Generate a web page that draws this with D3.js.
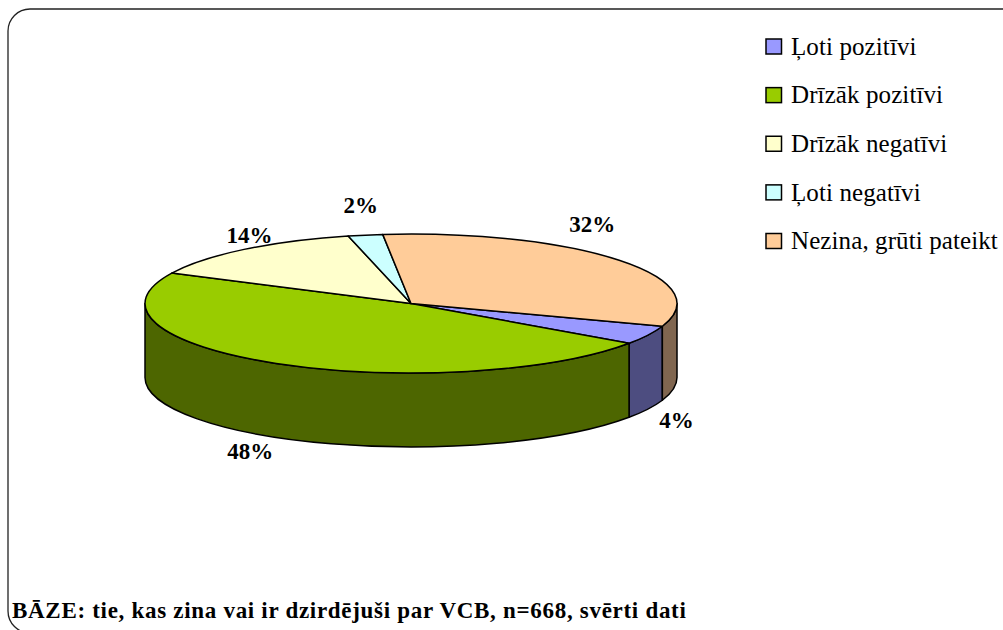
<!DOCTYPE html>
<html>
<head>
<meta charset="utf-8">
<script src="https://cdnjs.cloudflare.com/ajax/libs/d3/7.8.5/d3.min.js"></script>
<style>
  html, body { margin: 0; padding: 0; background: #fff; }
  svg { display: block; font-family: "Liberation Serif", serif; }
</style>
</head>
<body>
<div id="chart"></div>
<script>
const categories = ["Ļoti pozitīvi", "Drīzāk pozitīvi", "Drīzāk negatīvi", "Ļoti negatīvi", "Nezina, grūti pateikt"];
// labels are rounded, the slices themselves read a little finer
const shares = [4.4, 47.5, 14, 2.1, 32];
const topColors = ["#9999ff", "#99cc00", "#ffffcc", "#ccffff", "#ffcc99"];
const sideColors = ["#4d4d80", "#4d6600", "#808066", "#668080", "#806650"];
const footnote = "BĀZE: tie, kas zina vai ir dzirdējuši par VCB, n=668, svērti dati";

const width = 1003, height = 630;
const cx = 411, cy = 303.5, rx = 266, ry = 69.5, depth = 74;
const rad = Math.PI / 180;
const firstAngle = 109.1;

// label nudges from the rim point at each slice's middle
const labelNudge = [[28.5, 85], [-26, 88], [5.5, -14.5], [-4.6, -30], [-27, -36]];

const svg = d3.select("#chart").append("svg")
    .attr("width", width)
    .attr("height", height);

// frame runs off the right and bottom of the picture
svg.append("rect")
    .attr("x", 8).attr("y", 9)
    .attr("width", 1040).attr("height", 624)
    .attr("rx", 22).attr("ry", 22)
    .attr("fill", "#fff")
    .attr("stroke", "#222")
    .attr("stroke-width", 1.3);

const slices = d3.pie().sort(null)
    .startAngle(firstAngle * rad)
    .endAngle((firstAngle + 360) * rad)(shares);

const px = a => cx + rx * Math.sin(a);
const py = a => cy - ry * Math.cos(a);

const arcTo = (a0, a1, dy) => {
    const large = Math.abs(a1 - a0) > Math.PI ? 1 : 0;
    const sweep = a1 > a0 ? 1 : 0;
    return `A${rx},${ry} 0 ${large} ${sweep} ${px(a1)},${py(a1) + dy}`;
};

const topPath = d =>
    `M${cx},${cy}L${px(d.startAngle)},${py(d.startAngle)}` + arcTo(d.startAngle, d.endAngle, 0) + "Z";

// the part of a slice's rim that faces the viewer
const frontRanges = [[90 * rad, 270 * rad], [450 * rad, 630 * rad]];
const sidePath = d => frontRanges.map(([lo, hi]) => {
    const a0 = Math.max(lo, d.startAngle), a1 = Math.min(hi, d.endAngle);
    if (a1 <= a0) return "";
    return `M${px(a0)},${py(a0)}` + arcTo(a0, a1, 0) +
        `L${px(a1)},${py(a1) + depth}` + arcTo(a1, a0, depth) + "Z";
}).join("");

const pie = svg.append("g").attr("stroke", "#000").attr("stroke-width", 1.5).attr("stroke-linejoin", "round");

pie.selectAll("path.side")
    .data(slices)
    .join("path")
    .attr("class", "side")
    .attr("d", sidePath)
    .attr("fill", (d, i) => sideColors[i]);

pie.selectAll("path.top")
    .data(slices)
    .join("path")
    .attr("class", "top")
    .attr("d", topPath)
    .attr("fill", (d, i) => topColors[i]);

svg.append("g")
    .selectAll("text")
    .data(slices)
    .join("text")
    .attr("x", (d, i) => px((d.startAngle + d.endAngle) / 2) + labelNudge[i][0])
    .attr("y", (d, i) => py((d.startAngle + d.endAngle) / 2) + labelNudge[i][1])
    .attr("dy", "0.35em")
    .attr("text-anchor", "middle")
    .attr("font-size", 23)
    .attr("font-weight", "bold")
    .text(d => Math.round(d.value) + "%");

const legendY = d3.scalePoint()
    .domain(categories)
    .range([46.5, 241]);

const legend = svg.append("g")
    .selectAll("g")
    .data(categories)
    .join("g")
    .attr("transform", d => `translate(766,${legendY(d)})`);

legend.append("rect")
    .attr("x", 0).attr("y", -7.5)
    .attr("width", 15.5).attr("height", 15)
    .attr("fill", (d, i) => topColors[i])
    .attr("stroke", "#000")
    .attr("stroke-width", 1.5);

legend.append("text")
    .attr("x", 25)
    .attr("y", 0)
    .attr("dy", "0.33em")
    .attr("font-size", 25)
    .attr("letter-spacing", 0.1)
    .text(d => d);

svg.append("text")
    .attr("x", 12)
    .attr("y", 618)
    .attr("font-size", 23)
    .attr("font-weight", "bold")
    .attr("letter-spacing", 0.7)
    .text(footnote);
</script>
</body>
</html>
